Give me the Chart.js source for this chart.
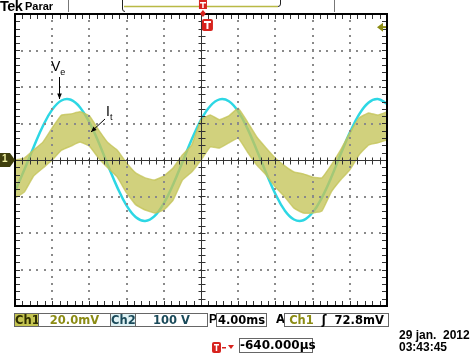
<!DOCTYPE html>
<html><head><meta charset="utf-8">
<script src="https://cdn.jsdelivr.net/npm/chart.js@4"></script>
<style>
body{margin:0;background:#fff;}
#wrap{position:relative;width:474px;height:355px;overflow:hidden;background:#fff;}
#c{position:absolute;left:0;top:0;}
.t{position:absolute;white-space:pre;font-family:"DejaVu Sans",sans-serif;font-weight:bold;font-size:11.5px;}
.box{position:absolute;border:1px solid #666;box-sizing:border-box;height:14px;font-family:"DejaVu Sans",sans-serif;font-weight:bold;font-size:11.5px;line-height:12px;text-align:center;white-space:pre;background:#fff;}
.lab{position:absolute;white-space:pre;font-family:"Liberation Sans",Arial,sans-serif;color:#000;}
</style></head>
<body><div id="wrap">
<canvas id="c" width="474" height="355"></canvas>
<div class="lab" style="left:0;top:-2px;font-size:14.5px;font-weight:bold;letter-spacing:-0.6px;">Tek</div>
<div class="lab" style="left:25px;top:0;font-size:11px;font-weight:bold;">Parar</div>

<div class="lab" style="left:51px;top:58px;font-size:14px;">V<span style="font-size:9px;position:relative;top:4px;">e</span></div>
<div class="lab" style="left:106px;top:103px;font-size:14px;">I<span style="font-size:9px;position:relative;top:4px;">t</span></div>

<div class="lab" style="left:2px;top:153px;font-size:10px;font-weight:bold;color:#f0f0a0;">1</div>

<div class="box" style="left:14px;top:313px;width:25px;background:#c4c450;color:#2e2e00;">Ch1</div>
<div class="box" style="left:38px;top:313px;width:73px;color:#8c8c14;">20.0mV</div>
<div class="box" style="left:110px;top:313px;width:26px;background:#dff2f4;color:#1a4a5a;">Ch2</div>
<div class="box" style="left:135px;top:313px;width:73px;color:#1a4a5a;">100 V</div>
<div class="lab" style="left:209px;top:312px;font-size:12px;font-weight:bold;">P</div>
<div class="box" style="left:216px;top:313px;width:51px;color:#000;">4.00ms</div>
<div class="t" style="left:276px;top:312px;">A</div>
<div class="box" style="left:284px;top:313px;width:105px;color:#000;"><span style="color:#8c8c14">Ch1</span>  ʃ  72.8mV</div>
<div class="box" style="left:239px;top:338px;width:74px;height:15px;line-height:13px;font-size:12px;color:#000;">-640.000µs</div>
<div class="lab" style="left:399px;top:328px;font-size:12px;font-weight:bold;">29 jan.  2012</div>
<div class="lab" style="left:399px;top:340px;font-size:12px;font-weight:bold;">03:43:45</div>
</div>
<script>
// time axis (ms), 4 ms/div, 10 divisions
const timeMs = [-20,-19,-18,-17,-16,-15,-14,-13,-12,-11,-10,-9,-8,-7,-6,-5,-4,-3,-2,-1,0,1,2,3,4,5,6,7,8,9,10,11,12,13,14,15,16,17,18,19,20];
// Ch2 (Ve) in divisions (100 V/div)
const veDiv = [-0.86,-0.27,0.35,0.93,1.38,1.63,1.65,1.44,1.03,0.48,-0.15,-0.75,-1.25,-1.57,-1.67,-1.54,-1.19,-0.67,-0.06,0.56,1.10,1.48,1.66,1.61,1.33,0.86,0.27,-0.35,-0.93,-1.38,-1.63,-1.65,-1.44,-1.03,-0.48,0.15,0.75,1.25,1.57,1.67,1.54];
// Ch1 (It) noisy band, upper and lower envelopes in divisions (20 mV/div)
const itUpper = [0.00,0.05,0.27,0.49,0.88,1.23,1.26,1.32,1.21,0.82,0.47,0.27,-0.08,-0.36,-0.49,-0.55,-0.44,-0.22,0.14,0.41,1.10,1.23,1.10,1.21,1.42,1.04,0.63,0.33,0.05,-0.16,-0.33,-0.38,-0.47,-0.49,-0.14,0.27,0.74,1.15,1.29,1.23,1.32];
const itLower = [-1.04,-0.88,-0.44,-0.22,0.00,0.27,0.38,0.49,0.38,0.05,-0.22,-0.47,-0.90,-1.23,-1.37,-1.45,-1.37,-1.10,-0.55,-0.33,0.00,0.36,0.33,0.47,0.60,0.22,-0.14,-0.41,-0.74,-1.01,-1.32,-1.45,-1.45,-1.40,-0.88,-0.55,-0.27,0.14,0.41,0.47,0.55];
const triggerLevelDiv = 72.8 / 20;
const triggerTimeMs = 0.64;

const yellow = 'rgba(196,196,88,0.78)';
const cyan = 'rgb(45,215,228)';

const graticule = {
  id: 'graticule',
  afterDatasetsDraw(chart) {
    const {ctx, chartArea: a, scales: {x, y}} = chart;
    ctx.save();
    ctx.fillStyle = '#8a8a8a';
    for (let k = -16; k <= 16; k += 4) {
      if (k === 0) continue;
      const px = Math.round(x.getPixelForValue(k));
      for (let v = -4; v <= 4.001; v += 0.2) {
        const py = Math.round(y.getPixelForValue(v));
        ctx.fillRect(px - 1, py - 1, 2, 2);
      }
    }
    for (let k = -3; k <= 3; k++) {
      if (k === 0) continue;
      const py = Math.round(y.getPixelForValue(k));
      for (let t = -20; t <= 20.001; t += 0.8) {
        const px = Math.round(x.getPixelForValue(t));
        ctx.fillRect(px - 1, py - 1, 2, 2);
      }
    }
    ctx.strokeStyle = '#333';
    ctx.lineWidth = 1;
    const cx = Math.round(x.getPixelForValue(0)) + 0.5;
    const cy = Math.round(y.getPixelForValue(0)) + 0.5;
    ctx.beginPath();
    ctx.moveTo(a.left, cy); ctx.lineTo(a.right, cy);
    ctx.moveTo(cx, a.top); ctx.lineTo(cx, a.bottom);
    for (let t = -20; t <= 20.001; t += 0.8) {
      const px = Math.round(x.getPixelForValue(t)) + 0.5;
      ctx.moveTo(px, cy - 3); ctx.lineTo(px, cy + 4);
      ctx.moveTo(px, a.top); ctx.lineTo(px, a.top + 5);
      ctx.moveTo(px, a.bottom); ctx.lineTo(px, a.bottom - 5);
    }
    for (let v = -4; v <= 4.001; v += 0.2) {
      const py = Math.round(y.getPixelForValue(v)) + 0.5;
      ctx.moveTo(cx - 3, py); ctx.lineTo(cx + 4, py);
      ctx.moveTo(a.left, py); ctx.lineTo(a.left + 5, py);
      ctx.moveTo(a.right, py); ctx.lineTo(a.right - 5, py);
    }
    ctx.stroke();
    ctx.strokeStyle = '#000';
    ctx.lineWidth = 2;
    ctx.strokeRect(a.left, a.top, a.right - a.left, a.bottom - a.top);
    ctx.restore();
  }
};

function arrow(ctx, x1, y1, x2, y2) {
  ctx.beginPath(); ctx.moveTo(x1, y1); ctx.lineTo(x2, y2); ctx.stroke();
  const ang = Math.atan2(y2 - y1, x2 - x1), L = 6;
  ctx.beginPath();
  ctx.moveTo(x2, y2);
  ctx.lineTo(x2 - L * Math.cos(ang - 0.4), y2 - L * Math.sin(ang - 0.4));
  ctx.lineTo(x2 - L * Math.cos(ang + 0.4), y2 - L * Math.sin(ang + 0.4));
  ctx.closePath(); ctx.fill();
}

const decor = {
  id: 'decor',
  afterDraw(chart) {
    const {ctx, scales: {x, y}} = chart;
    ctx.save();
    ctx.strokeStyle = '#777'; ctx.lineWidth = 1;
    ctx.beginPath();
    ctx.moveTo(68.5, 0); ctx.lineTo(68.5, 12);
    ctx.moveTo(334.5, 0); ctx.lineTo(334.5, 12);
    ctx.stroke();
    ctx.strokeStyle = '#222';
    ctx.beginPath();
    ctx.moveTo(122.5, 0); ctx.lineTo(122.5, 9); ctx.quadraticCurveTo(122.5, 11.5, 125, 11.5);
    ctx.moveTo(280.5, 0); ctx.lineTo(280.5, 4); ctx.quadraticCurveTo(280.5, 6.5, 278, 6.5);
    ctx.stroke();
    ctx.strokeStyle = 'rgb(185,185,70)'; ctx.lineWidth = 1.5;
    ctx.beginPath(); ctx.moveTo(124, 6.5); ctx.lineTo(278, 6.5); ctx.stroke();
    const tx = x.getPixelForValue(triggerTimeMs);
    ctx.fillStyle = 'rgb(215,35,30)';
    ctx.fillRect(tx - 8, 0, 8, 9);
    ctx.beginPath(); ctx.moveTo(tx - 4, 10); ctx.lineTo(tx - 1, 13.5); ctx.lineTo(tx - 4, 17); ctx.lineTo(tx - 7, 13.5); ctx.closePath(); ctx.fill();
    ctx.beginPath();
    if (ctx.roundRect) ctx.roundRect(tx - 5, 19, 11, 12, 2); else ctx.rect(tx - 5, 19, 11, 12);
    ctx.fill();
    ctx.fillStyle = '#fff';
    ctx.fillRect(tx - 3, 21, 7, 2); ctx.fillRect(tx - 0.5, 21, 2, 8);
    ctx.fillRect(tx - 7, 2, 6, 1.5); ctx.fillRect(tx - 4.75, 2, 1.5, 6);
    ctx.fillStyle = 'rgb(215,35,30)';
    ctx.beginPath();
    if (ctx.roundRect) ctx.roundRect(212, 342, 9, 11, 2); else ctx.rect(212, 342, 9, 11);
    ctx.fill();
    ctx.fillRect(222, 347, 4, 1.5);
    ctx.beginPath(); ctx.moveTo(228, 345); ctx.lineTo(234, 345); ctx.lineTo(231, 349); ctx.closePath(); ctx.fill();
    ctx.fillStyle = '#fff';
    ctx.fillRect(214, 344, 5, 1.5); ctx.fillRect(215.75, 344, 1.5, 7);
    const gy = y.getPixelForValue(0);
    ctx.fillStyle = 'rgb(62,62,12)';
    ctx.beginPath();
    ctx.moveTo(0, gy - 7); ctx.lineTo(10, gy - 7); ctx.lineTo(15, gy); ctx.lineTo(10, gy + 7); ctx.lineTo(0, gy + 7); ctx.closePath(); ctx.fill();
    const ty = y.getPixelForValue(triggerLevelDiv);
    ctx.fillStyle = 'rgb(140,140,20)';
    ctx.beginPath(); ctx.moveTo(377, ty); ctx.lineTo(383, ty - 4.5); ctx.lineTo(383, ty + 4.5); ctx.closePath(); ctx.fill();
    ctx.fillRect(383, ty - 1, 3, 2);
    ctx.strokeStyle = '#000'; ctx.fillStyle = '#000'; ctx.lineWidth = 1;
    arrow(ctx, 59.5, 77, 59.5, 99);
    arrow(ctx, 105, 119, 91, 132);
    ctx.restore();
  }
};

const pts = arr => timeMs.map((t, i) => ({x: t, y: arr[i]}));

new Chart(document.getElementById('c'), {
  type: 'line',
  data: {
    datasets: [
      {label: 'It upper', data: pts(itUpper), borderColor: yellow, borderWidth: 1.5, pointRadius: 0, tension: 0.1, fill: false, order: 1},
      {label: 'It lower', data: pts(itLower), borderColor: yellow, backgroundColor: yellow, borderWidth: 1.5, pointRadius: 0, tension: 0.1, fill: '-1', order: 2},
      {label: 'Ve', data: pts(veDiv), borderColor: cyan, borderWidth: 2.5, pointRadius: 0, tension: 0.4, fill: false, order: 3}
    ]
  },
  options: {
    responsive: false,
    animation: false,
    devicePixelRatio: 1,
    layout: {padding: {left: 15, right: 87, top: 14, bottom: 49}},
    plugins: {legend: {display: false}, tooltip: {enabled: false}},
    scales: {
      x: {type: 'linear', min: -20, max: 20, display: false},
      y: {type: 'linear', min: -4, max: 4, display: false}
    }
  },
  plugins: [graticule, decor]
});
</script>
</body></html>
